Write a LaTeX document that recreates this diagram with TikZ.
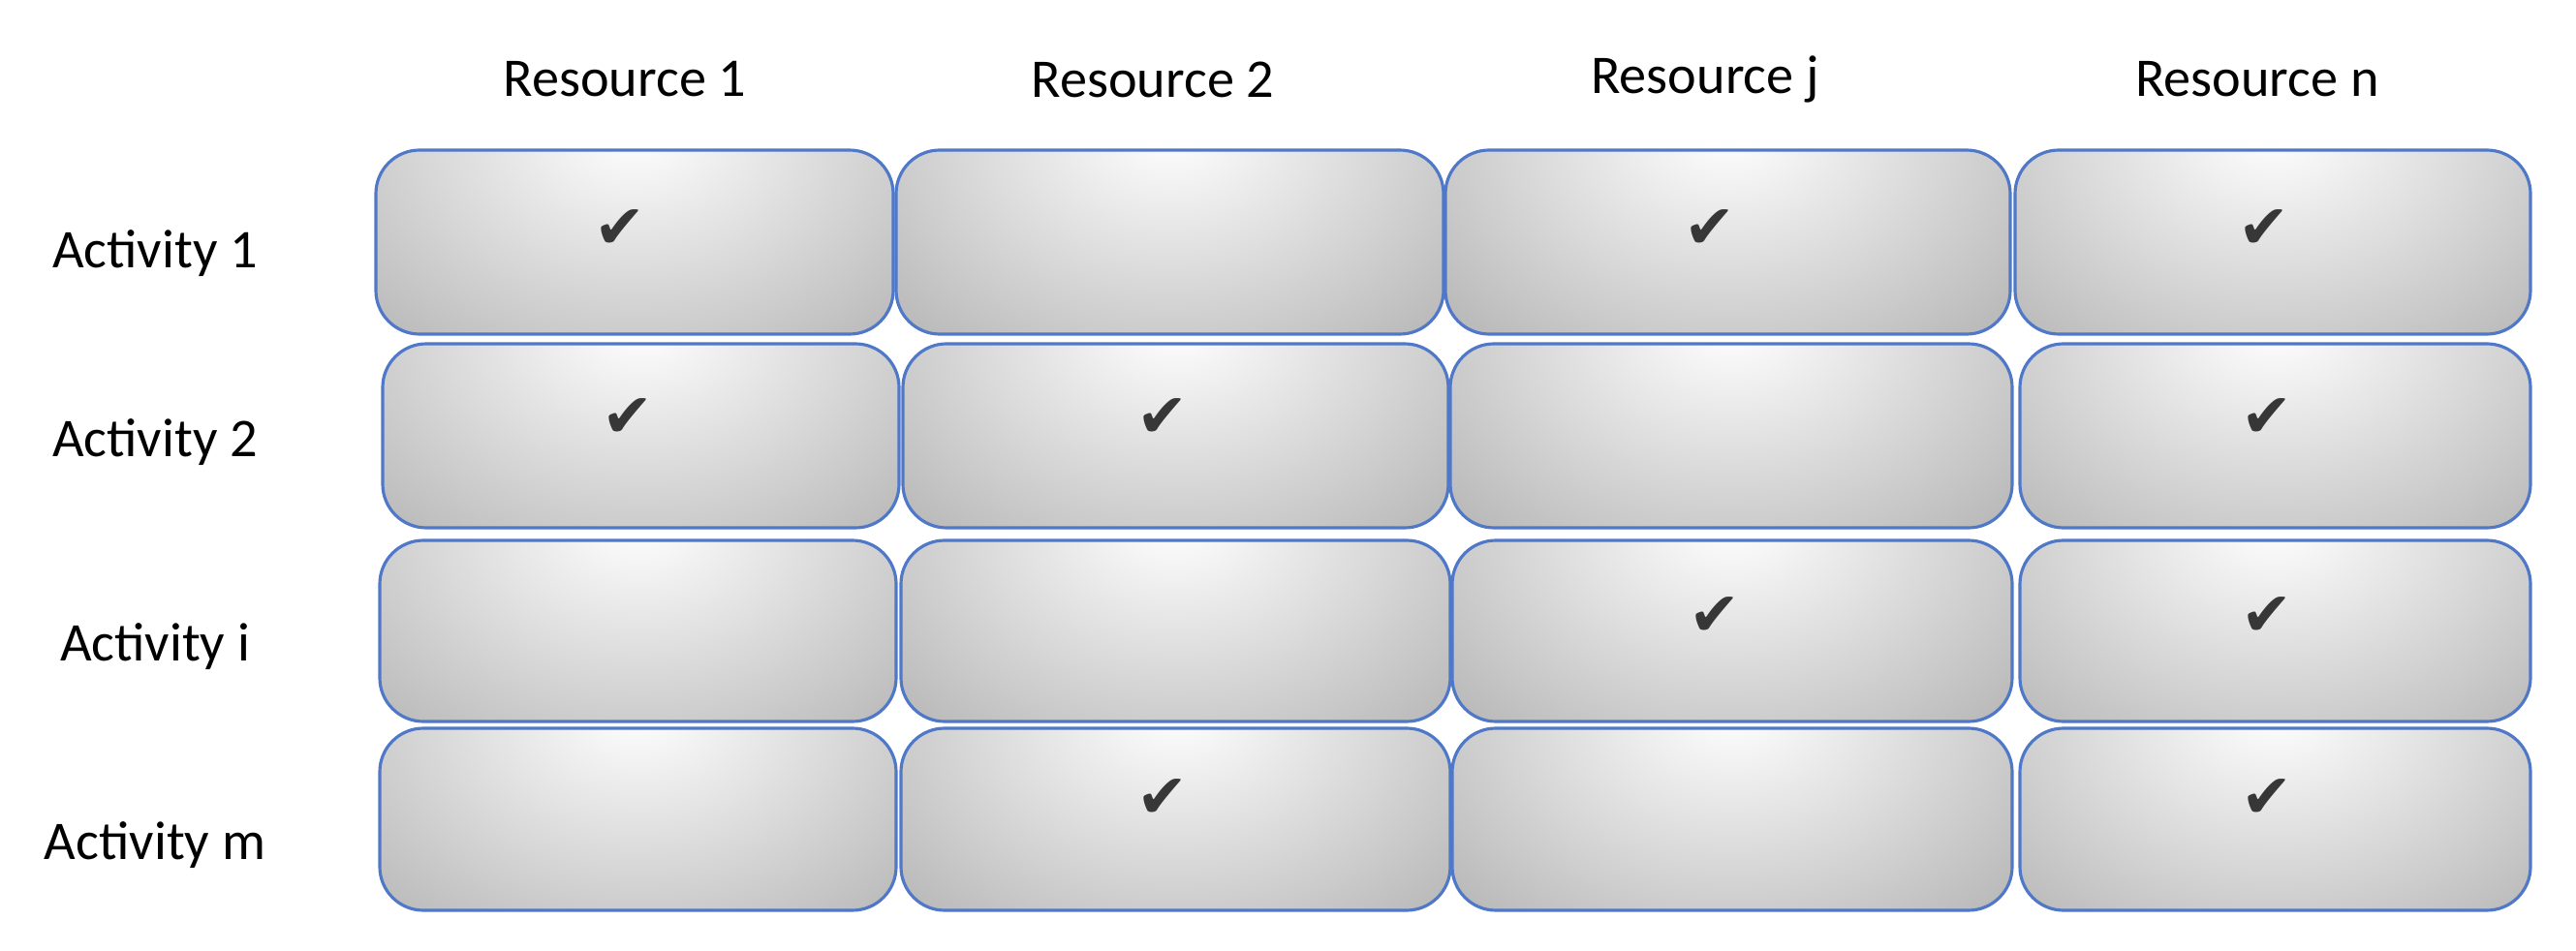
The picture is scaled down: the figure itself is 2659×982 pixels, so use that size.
\documentclass[tikz,border=0pt]{standalone}
\usepackage{fontspec}
\setmainfont{Carlito}
\newfontfamily\symfont{DejaVu Sans}
\definecolor{cellblue}{RGB}{80,120,200}
\definecolor{cellgray}{RGB}{172,172,172}
\definecolor{chk}{RGB}{55,55,55}
\begin{document}
\begin{tikzpicture}[x=0.01cm,y=-0.01cm,
  cell/.style={draw=cellblue,line width=0.9pt,rounded corners=0.45cm,fill=cellgray,
    path picture={\shade[inner color=white,outer color=cellgray]
      ([yshift=0.2cm]path picture bounding box.north) ellipse (4.6cm and 3.4cm);}},
  hdr/.style={font=\fontsize{16}{18}\selectfont},
  chkm/.style={font=\symfont\fontsize{18}{20}\selectfont,text=chk}]
\useasboundingbox (0,0) rectangle (2659,982);
% row 1
\path[cell] (388,155) rectangle (922,345); \path[cell] (925,155) rectangle (1490,345);
\path[cell] (1492,155) rectangle (2075,345); \path[cell] (2080,155) rectangle (2612,345);
% row 2
\path[cell] (395,355) rectangle (928,545); \path[cell] (932,355) rectangle (1495,545);
\path[cell] (1497,355) rectangle (2077,545); \path[cell] (2085,355) rectangle (2612,545);
% row 3
\path[cell] (392,558) rectangle (925,745); \path[cell] (930,558) rectangle (1497,745);
\path[cell] (1499,558) rectangle (2077,745); \path[cell] (2085,558) rectangle (2612,745);
% row 4
\path[cell] (392,752) rectangle (925,940); \path[cell] (930,752) rectangle (1497,940);
\path[cell] (1499,752) rectangle (2077,940); \path[cell] (2085,752) rectangle (2612,940);
% headers
\node[hdr] (r1) at (645,82) {Resource 1};
\node[hdr] (r2) at (1190,82) {Resource 2};
\node[hdr] (rj) at (1760,82) {Resource j};
\node[hdr] (rn) at (2330,82) {Resource n};
\node[hdr] (a1) at (160,262) {Activity 1};
\node[hdr] (a2) at (160,457) {Activity 2};
\node[hdr] (ai) at (160,668) {Activity i};
\node[hdr] (am) at (160,873) {Activity m};
% checks
\node[chkm] (c11) at (640,237) {✔};
\node[chkm] (c13) at (1765,237) {✔};
\node[chkm] (c14) at (2337,237) {✔};
\node[chkm] (c21) at (648,432) {✔};
\node[chkm] (c22) at (1200,432) {✔};
\node[chkm] (c24) at (2340,432) {✔};
\node[chkm] (c33) at (1770,637) {✔};
\node[chkm] (c34) at (2340,637) {✔};
\node[chkm] (c42) at (1200,825) {✔};
\node[chkm] (c44) at (2340,825) {✔};
\end{tikzpicture}
\end{document}
